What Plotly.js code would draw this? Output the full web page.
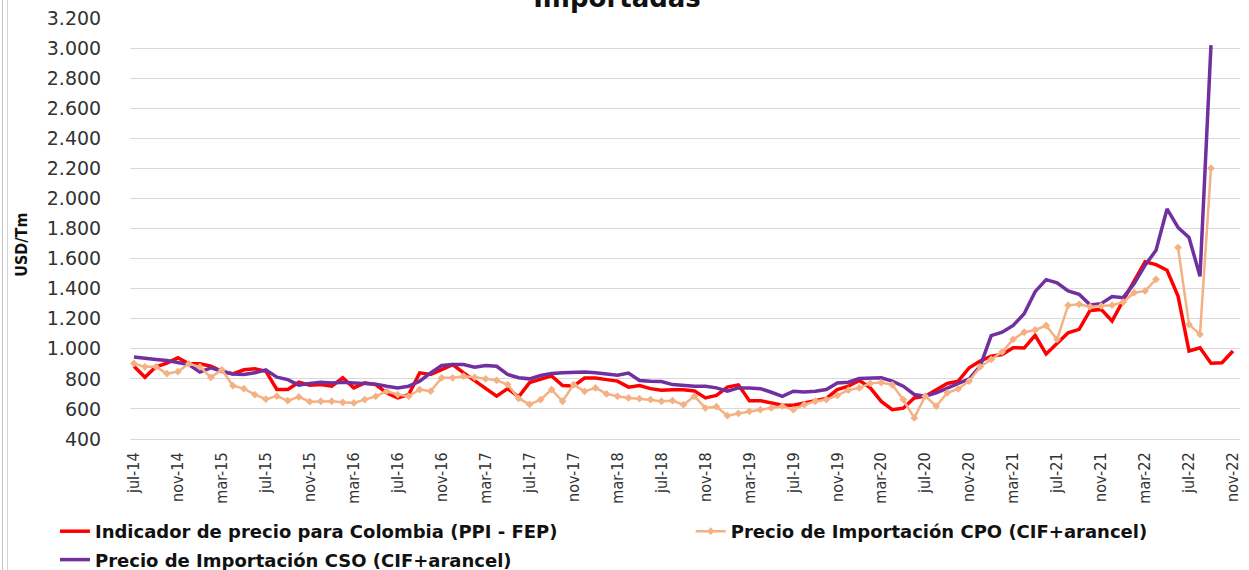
<!DOCTYPE html>
<html>
<head>
<meta charset="utf-8">
<script src="https://cdn.plot.ly/plotly-3.0.1.min.js"></script>
<style>
html,body{margin:0;padding:0;background:#fff;}
#wrap{position:relative;width:1249px;height:570px;}
#chart{width:1249px;height:570px;}
#frame{position:absolute;left:2px;top:0;width:4px;height:570px;border-left:1px solid #c4c4c4;border-right:1px solid #d6d6d6;pointer-events:none;}
</style>
</head>
<body>
<div id="wrap"><div id="chart"></div><div id="frame"></div></div>
<script>
const months = [
 "jul-14","ago-14","sep-14","oct-14","nov-14","dic-14",
 "ene-15","feb-15","mar-15","abr-15","may-15","jun-15","jul-15","ago-15","sep-15","oct-15","nov-15","dic-15",
 "ene-16","feb-16","mar-16","abr-16","may-16","jun-16","jul-16","ago-16","sep-16","oct-16","nov-16","dic-16",
 "ene-17","feb-17","mar-17","abr-17","may-17","jun-17","jul-17","ago-17","sep-17","oct-17","nov-17","dic-17",
 "ene-18","feb-18","mar-18","abr-18","may-18","jun-18","jul-18","ago-18","sep-18","oct-18","nov-18","dic-18",
 "ene-19","feb-19","mar-19","abr-19","may-19","jun-19","jul-19","ago-19","sep-19","oct-19","nov-19","dic-19",
 "ene-20","feb-20","mar-20","abr-20","may-20","jun-20","jul-20","ago-20","sep-20","oct-20","nov-20","dic-20",
 "ene-21","feb-21","mar-21","abr-21","may-21","jun-21","jul-21","ago-21","sep-21","oct-21","nov-21","dic-21",
 "ene-22","feb-22","mar-22","abr-22","may-22","jun-22","jul-22","ago-22","sep-22","oct-22","nov-22"
];

const tickLabels = ["jul-14","nov-14","mar-15","jul-15","nov-15","mar-16","jul-16","nov-16","mar-17","jul-17","nov-17",
 "mar-18","jul-18","nov-18","mar-19","jul-19","nov-19","mar-20","jul-20","nov-20","mar-21","jul-21","nov-21",
 "mar-22","jul-22","nov-22"];

const yTicks = [400,600,800,1000,1200,1400,1600,1800,2000,2200,2400,2600,2800,3000,3200];

// Indicador de precio para Colombia (PPI - FEP)
const ppiFep = [
 884,810,880,905,940,900,
 900,884,850,833,860,867,851,730,730,778,758,762,
 751,807,740,773,762,706,673,695,840,829,862,895,
 840,790,740,685,735,680,775,795,820,755,752,805,
 805,795,785,745,755,735,725,728,728,720,673,690,
 745,760,655,655,640,625,625,640,655,670,729,751,
 790,740,650,595,605,673,685,729,769,785,874,918,
 951,962,1007,1005,1090,965,1040,1107,1129,1255,1262,1185,
 1320,1455,1578,1560,1522,1351,985,1007,904,907,985
];

// Precio de Importación CPO (CIF+arancel)
const cpo = [
 902,880,880,835,848,900,
 880,810,860,755,735,695,665,685,655,680,648,651,
 651,644,640,662,684,718,695,684,729,718,807,807,
 818,810,800,790,762,670,630,662,729,651,762,717,
 740,700,684,673,668,662,651,655,628,684,606,615,
 555,570,584,595,607,618,595,629,651,662,690,725,
 740,770,775,760,662,540,685,618,707,733,785,880,
 929,980,1062,1110,1125,1155,1062,1289,1296,1280,1285,1290,
 1310,1373,1385,1462,null,1673,1162,1096,2200,null,null
];

// Precio de Importación CSO (CIF+arancel)
const cso = [
 946,935,929,922,906,895,
 845,873,851,833,829,840,860,811,795,758,770,778,
 773,778,773,769,765,751,740,751,784,840,889,895,
 895,878,889,884,829,807,800,822,835,840,844,846,
 840,833,824,838,789,784,782,762,755,751,751,740,
 718,740,740,735,711,684,718,713,718,729,773,778,
 802,807,807,785,751,696,685,707,740,773,800,885,
 1087,1110,1155,1233,1380,1460,1438,1385,1362,1292,1300,1348,
 1340,1432,1555,1655,1930,1807,1740,1482,3020,null,null
];

const traces = [
 {x: months, y: ppiFep, type: 'scatter', mode: 'lines', name: 'Indicador de precio para Colombia (PPI - FEP)',
  line: {color: '#FF0000', width: 3.5}, legend: 'legend', legendgroup: 'a'},
 {x: months, y: cso, type: 'scatter', mode: 'lines', name: 'Precio de Importación CSO (CIF+arancel)',
  line: {color: '#7030A0', width: 3.5}, legend: 'legend', legendgroup: 'b'},
 {x: months, y: cpo, type: 'scatter', mode: 'lines+markers', name: 'Precio de Importación CPO (CIF+arancel)',
  line: {color: '#F4B183', width: 2.5}, marker: {symbol: 'diamond', size: 6, color: '#F4B183'},
  connectgaps: false, legend: 'legend2', legendgroup: 'c'}
];

const legendFont = {family: 'DejaVu Sans', size: 18, weight: 'bold', color: '#111'};
const narrow = "'DejaVu Sans Condensed', 'Liberation Sans', sans-serif";

const layout = {
 width: 1249, height: 570,
 margin: {l: 130, r: 9, t: 18, b: 131, autoexpand: false},
 paper_bgcolor: '#fff', plot_bgcolor: '#fff',
 separators: ',.',
 title: {text: 'Importadas', font: {family: 'DejaVu Sans', size: 26, weight: 'bold', color: '#111'},
  x: 0.494, xanchor: 'center', xref: 'container', y: 0.988, yanchor: 'bottom', yref: 'container'},
 xaxis: {
  type: 'category', range: [-0.36, 100.64],
  tickmode: 'array', tickvals: tickLabels, ticktext: tickLabels,
  tickangle: -90, tickfont: {family: narrow, size: 16, color: '#333'},
  showgrid: false, showline: true, linecolor: '#d9d9d9', linewidth: 1,
  ticks: 'outside', ticklen: 6, tickcolor: 'rgba(0,0,0,0)',
  zeroline: false, fixedrange: true, automargin: false
 },
 yaxis: {
  range: [400, 3200], tickmode: 'array', tickvals: yTicks, tickformat: ',d',
  tickfont: {family: 'DejaVu Sans', size: 19, color: '#333'},
  showgrid: true, gridcolor: '#d9d9d9', gridwidth: 1, zeroline: false, showline: false,
  ticks: 'outside', ticklen: 24, tickcolor: 'rgba(0,0,0,0)',
  fixedrange: true, automargin: false
 },
 annotations: [
  {text: 'USD/Tm', xref: 'paper', yref: 'paper', x: -0.0973, y: 0.4615, xanchor: 'center', yanchor: 'middle',
   textangle: -90, showarrow: false, font: {family: narrow, size: 16, weight: 'bold', color: '#111'}}
 ],
 showlegend: true,
 legend: {orientation: 'v', xref: 'container', yref: 'container', x: 0.044, xanchor: 'left', y: 0.1, yanchor: 'top',
  font: legendFont, bgcolor: 'rgba(0,0,0,0)', tracegroupgap: 2, itemwidth: 30},
 legend2: {orientation: 'v', xref: 'container', yref: 'container', x: 0.553, xanchor: 'left', y: 0.1, yanchor: 'top',
  font: legendFont, bgcolor: 'rgba(0,0,0,0)', itemwidth: 30}
};

Plotly.newPlot('chart', traces, layout, {staticPlot: true, displayModeBar: false});
</script>
</body>
</html>
